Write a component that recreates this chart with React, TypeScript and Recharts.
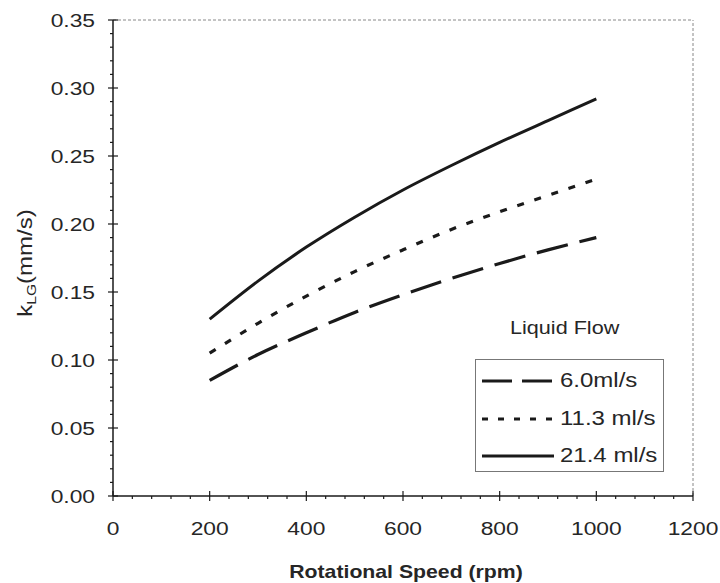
import React from "react";
import { LineChart, Line, XAxis, YAxis, ReferenceLine, Legend } from "recharts";

const rpm = [200, 300, 400, 500, 600, 700, 800, 900, 1000];
const flow60 = [0.085, 0.104, 0.12, 0.135, 0.148, 0.16, 0.171, 0.181, 0.19];
const flow113 = [0.105, 0.127, 0.147, 0.165, 0.181, 0.196, 0.209, 0.221, 0.233];
const flow214 = [0.13, 0.158, 0.183, 0.205, 0.225, 0.243, 0.26, 0.276, 0.292];

const seriesNames = ["6.0ml/s", "11.3 ml/s", "21.4 ml/s"];

const xMajor = [0, 200, 400, 600, 800, 1000, 1200];
const yMajor = [0, 0.05, 0.1, 0.15, 0.2, 0.25, 0.3, 0.35];
const xTicks = Array.from({ length: 31 }, (_, i) => i * 40);
const yTicks = Array.from({ length: 36 }, (_, i) => i / 100);

const data = rpm.map((r, i) => ({ rpm: r, a: flow60[i], b: flow113[i], c: flow214[i] }));

const ink = "#1a1a1a";
const txt = "#262626";
const font = "'Liberation Sans', Arial, sans-serif";
const stretch = 1.2;

const XTick = (props: any) => {
  const { x, y, payload } = props;
  const major = xMajor.includes(payload.value);
  return (
    <g>
      <line x1={x} x2={x} y1={y - (major ? 5 : 0)} y2={y + (major ? 5 : 3)} stroke={ink} strokeWidth={1.2} />
      {major && (
        <text transform={`translate(${x},${y + 39}) scale(${stretch},1)`} textAnchor="middle" fontSize={19} fill={txt} fontFamily={font}>
          {payload.value}
        </text>
      )}
    </g>
  );
};

const YTick = (props: any) => {
  const { x, y, payload } = props;
  const major = yMajor.some((m) => Math.abs(m - payload.value) < 1e-6);
  return (
    <g>
      <line x1={x - (major ? 5 : 3)} x2={x + (major ? 5 : 0)} y1={y} y2={y} stroke={ink} strokeWidth={1.2} />
      {major && (
        <text transform={`translate(${x - 18},${y}) scale(${stretch},1)`} dy="0.36em" textAnchor="end" fontSize={19} fill={txt} fontFamily={font}>
          {payload.value.toFixed(2)}
        </text>
      )}
    </g>
  );
};

const YLabel = (props: any) => {
  const vb = props.viewBox;
  const cx = vb.x + 25;
  const cy = vb.y + vb.height / 2 + 5;
  return (
    <text transform={`translate(${cx},${cy}) rotate(-90) scale(${stretch},1)`} textAnchor="middle" dy="0.36em" fontSize={20} fill={txt} fontFamily={font}>
      k<tspan fontSize={13} dy={4}>LG</tspan>
      <tspan dy={-4}>(mm/s)</tspan>
    </text>
  );
};

const XLabel = (props: any) => {
  const vb = props.viewBox;
  const cx = vb.x + vb.width / 2 + 3;
  const cy = vb.y + 76;
  return (
    <text transform={`translate(${cx},${cy}) scale(1.18,1)`} textAnchor="middle" dy="0.36em" fontSize={18} fontWeight="bold" fill={txt} fontFamily={font}>
      Rotational Speed (rpm)
    </text>
  );
};

const LegendBox = () => {
  const dashes = ["30 10", "6 10", undefined];
  const label = (s: string, size: number) => (
    <span style={{ display: "inline-block", fontSize: size, transform: `scaleX(${stretch})`, transformOrigin: "left center", whiteSpace: "nowrap" }}>{s}</span>
  );
  return (
    <div style={{ position: "relative", width: 190, height: 165, fontFamily: font, color: txt }}>
      <div style={{ position: "absolute", top: 8, left: 35, lineHeight: "20px" }}>{label("Liquid Flow", 18)}</div>
      <div style={{ position: "absolute", top: 49, left: 0, border: "1px solid #777", width: 189, height: 113, boxSizing: "border-box", paddingTop: 2 }}>
        {seriesNames.map((n, i) => (
          <div key={n} style={{ position: "relative", height: 37.5 }}>
            <svg width={72} height={10} style={{ position: "absolute", left: 6, top: 14 }}>
              <line x1={0} x2={72} y1={5} y2={5} stroke={ink} strokeWidth={3} strokeDasharray={dashes[i]} />
            </svg>
            <div style={{ position: "absolute", left: 84, top: 7, lineHeight: "22px" }}>{label(n, 20)}</div>
          </div>
        ))}
      </div>
    </div>
  );
};

export default function App() {
  return (
    <div style={{ position: "absolute", left: 0, top: 0, background: "#fff" }}>
      <LineChart width={720} height={583} data={data} margin={{ top: 20, right: 27, left: 0, bottom: 0 }}>
        <XAxis
          dataKey="rpm"
          type="number"
          domain={[0, 1200]}
          ticks={xTicks}
          interval={0}
          tickSize={0}
          tickMargin={0}
          tickLine={false}
          tick={<XTick />}
          height={87}
          axisLine={{ stroke: ink, strokeWidth: 1.5 }}
          label={{ content: <XLabel /> }}
        />
        <YAxis
          type="number"
          domain={[0, 0.35]}
          ticks={yTicks}
          interval={0}
          tickSize={0}
          tickMargin={0}
          tickLine={false}
          tick={<YTick />}
          width={113}
          axisLine={{ stroke: ink, strokeWidth: 1.5 }}
          label={{ content: <YLabel /> }}
        />
        <ReferenceLine y={0.35} stroke="#888" strokeDasharray="3 2" strokeWidth={1} />
        <ReferenceLine x={1200} stroke="#888" strokeDasharray="3 2" strokeWidth={1} />
        <Legend
          layout="vertical"
          align="center"
          verticalAlign="middle"
          content={<LegendBox />}
          wrapperStyle={{ left: 475, top: 310, width: 190 }}
        />
        <Line dataKey="a" name={seriesNames[0]} type="monotone" stroke={ink} strokeWidth={3.2} strokeDasharray="32 12" dot={false} isAnimationActive={false} />
        <Line dataKey="b" name={seriesNames[1]} type="monotone" stroke={ink} strokeWidth={3.2} strokeDasharray="7 11" dot={false} isAnimationActive={false} />
        <Line dataKey="c" name={seriesNames[2]} type="monotone" stroke={ink} strokeWidth={3} dot={false} isAnimationActive={false} />
      </LineChart>
    </div>
  );
}
